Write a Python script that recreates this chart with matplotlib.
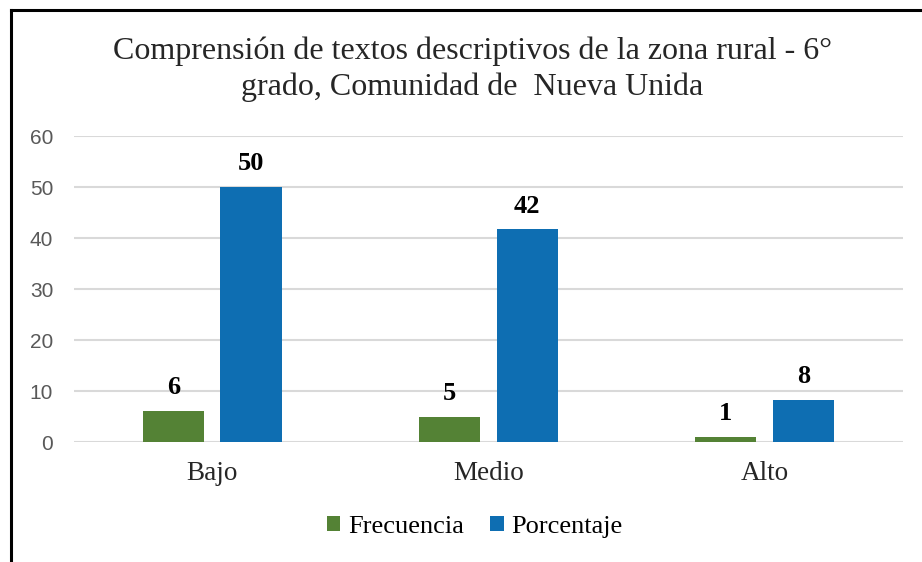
import numpy as np
import matplotlib.pyplot as plt
from matplotlib.lines import Line2D

categories = ["Bajo", "Medio", "Alto"]
frecuencia = [6, 5, 1]
porcentaje = [50, 41.67, 8.33]
labels_frec = ["6", "5", "1"]
labels_porc = ["50", "42", "8"]

serif = "Liberation Serif"
green = "#548235"
blue = "#0E6EB2"

fig = plt.figure(figsize=(9.22, 5.62), dpi=100)
ax = fig.add_axes([0.0803, 0.2135, 0.8987, 0.5445])

x = np.arange(len(categories))
w = 0.222
off = 0.141
b1 = ax.bar(x - off, frecuencia, w, color=green, label="Frecuencia", zorder=3)
b2 = ax.bar(x + off, porcentaje, w, color=blue, label="Porcentaje", zorder=3)

for bars, labs in ((b1, labels_frec), (b2, labels_porc)):
    for rect, lab in zip(bars, labs):
        ax.text(rect.get_x() + rect.get_width() / 2, rect.get_height() + 4.6, lab,
                ha="center", va="center", fontsize=19, fontweight="bold",
                family=serif, color="black")

ax.set_xlim(-0.5, 2.5)
ax.set_ylim(0, 60)
ax.set_yticks(range(0, 61, 10))
ax.yaxis.grid(True, color="#d9d9d9", linewidth=1.5, zorder=0)
ax.set_axisbelow(True)
for s in ax.spines.values():
    s.set_visible(False)
ax.tick_params(axis="both", length=0)
ax.tick_params(axis="y", pad=15, labelsize=15, labelcolor="#595959")
ax.tick_params(axis="x", pad=14)
for t in ax.get_yticklabels():
    t.set_family("Liberation Sans")
ax.set_xticks(x)
ax.set_xticklabels(categories, family=serif, fontsize=19.5, color="#262626")

fig.text(0.512, 0.877, "Comprensión de textos descriptivos de la zona rural - 6°\ngrado, Comunidad de  Nueva Unida",
         ha="center", va="center", family=serif, fontsize=23, color="#262626",
         linespacing=1.28)

fig.legend(handles=[b1, b2], loc="center", bbox_to_anchor=(0.515, 0.062), ncol=2,
           frameon=False, prop={"family": serif, "size": 19},
           handlelength=0.5, handleheight=0.5, handletextpad=0.3, columnspacing=1.0)

# frame around the chart
fig.add_artist(Line2D([10.5 / 922, 10.5 / 922], [0, 1 - 9.5 / 562], color="black", linewidth=2.2,
                      transform=fig.transFigure))
fig.add_artist(Line2D([10.5 / 922, 1], [1 - 9.5 / 562, 1 - 9.5 / 562], color="black", linewidth=2.2,
                      transform=fig.transFigure))

fig.savefig("out.png", dpi=100)
